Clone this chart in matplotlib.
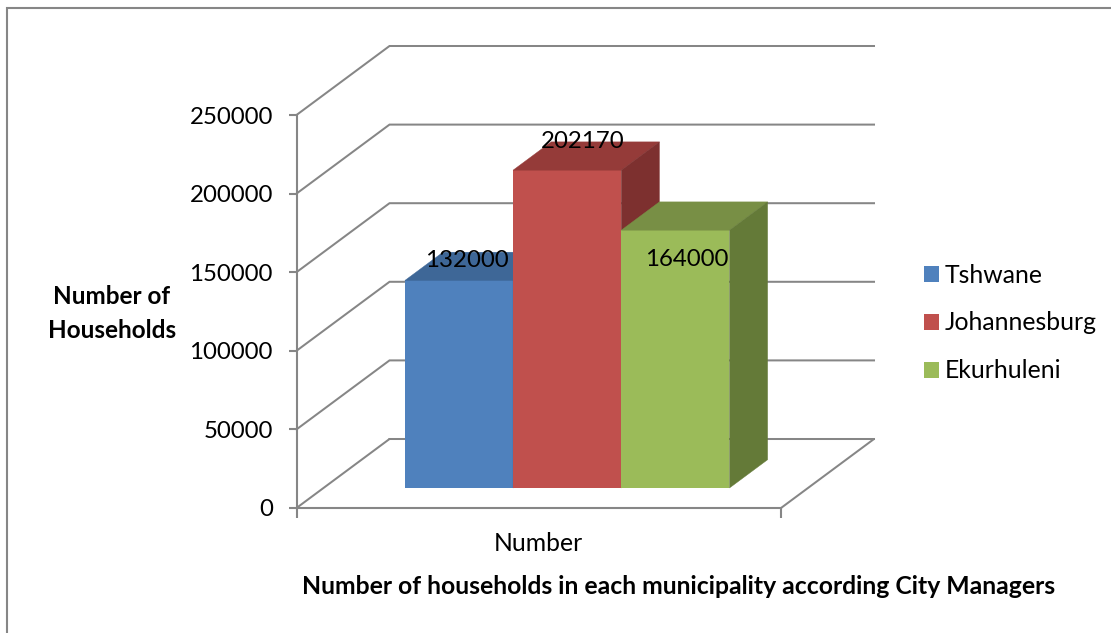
import matplotlib
matplotlib.use('Agg')
import matplotlib.pyplot as plt
from matplotlib.patches import Patch, Polygon, Rectangle

plt.rcParams['font.family'] = ['Lato', 'DejaVu Sans']

# data
municipalities = ['Tshwane', 'Johannesburg', 'Ekurhuleni']
households = [132000, 202170, 164000]
y_ticks = [0, 50000, 100000, 150000, 200000, 250000]
category = 'Number'

# face colours of each bar: front, top, side
front_cols = ['#4F81BD', '#C0504D', '#9BBB59']
top_cols = ['#3E6797', '#953B39', '#788F45']
side_cols = ['#385D8A', '#7D302F', '#647A38']
line_col = '#868686'

W, H = 1111, 633
fig = plt.figure(figsize=(W / 100, H / 100), dpi=100)
fig.patch.set_facecolor('white')

# front plane of the box is 484 px wide, 78.6 px per 50000
left, right, bottom, top = 296.5, 875, 508, 45
ax = fig.add_axes([left / W, 1 - bottom / H, (right - left) / W, (bottom - top) / H])
px_x = 1 / 484.5
px_y = 50000 / 78.6
ax.set_xlim(0, (right - left) * px_x)
ax.set_ylim(0, (bottom - top) * px_y)
ax.patch.set_visible(False)

# fake 3d: depth of the whole box, and where the bars sit inside it
DX = 93 * px_x
DY = 69 * px_y
near, far = 0.29, 0.70
group_start, group_end = 0.168, 0.838
width = (group_end - group_start) / len(households)

# walls
for v in y_ticks:
    ax.plot([0, DX, 1 + DX], [v, v + DY, v + DY], color=line_col, lw=1.45, zorder=1,
            clip_on=False, solid_joinstyle='miter')
ax.plot([1, 1 + DX, DX], [0, DY, DY], color=line_col, lw=1.45, zorder=1, clip_on=False)

for sp in ['top', 'right']:
    ax.spines[sp].set_visible(False)
for sp in ['left', 'bottom']:
    ax.spines[sp].set_color(line_col)
    ax.spines[sp].set_linewidth(1.5)
ax.spines['left'].set_bounds(0, 250000)
ax.spines['bottom'].set_bounds(0, 1)
ax.set_yticks(y_ticks)
ax.set_yticklabels([str(v) for v in y_ticks])
ax.set_xticks([0, 1])
ax.set_xticklabels(['', ''])
ax.set_xticks([0.5], [category], minor=True)
ax.tick_params(axis='y', length=6, width=1.5, color=line_col, labelsize=17.3, pad=11)
ax.tick_params(axis='x', which='major', length=7, width=1.5, color=line_col)
ax.tick_params(axis='x', which='minor', length=0, labelsize=17.8, pad=17)

# bars
for i, v in enumerate(households):
    x0 = group_start + i * width + near * DX
    y0 = near * DY
    ax.bar(x0, v, width=width, bottom=y0, align='edge', color=front_cols[i], zorder=3 + i)
    ddx = (far - near) * DX
    ddy = (far - near) * DY
    ax.add_patch(Polygon([(x0, y0 + v), (x0 + width, y0 + v), (x0 + width + ddx, y0 + v + ddy),
                          (x0 + ddx, y0 + v + ddy)], closed=True, fc=top_cols[i], ec=top_cols[i], lw=0.3, zorder=3 + i))
    ax.add_patch(Polygon([(x0 + width, y0), (x0 + width + ddx, y0 + ddy), (x0 + width + ddx, y0 + v + ddy),
                          (x0 + width, y0 + v)], closed=True, fc=side_cols[i], ec=side_cols[i], lw=0.3, zorder=3 + i))

# data labels, offset from the top middle of each front face (points)
label_off = [(6, 14.5), (11.5, 21), (8.5, -21)]
for i, v in enumerate(households):
    xc = group_start + (i + 0.5) * width + near * DX
    ax.annotate(str(v), (xc, near * DY + v), xytext=label_off[i], textcoords='offset points',
                ha='center', va='center', fontsize=17.3, color='black', zorder=10, annotation_clip=False)

# axis titles
fig.text(112 / W, 1 - 313.5 / H, 'Number of\nHouseholds', ha='center', va='center', fontsize=17.5,
         fontweight='bold', linespacing=1.55)
fig.text(679 / W, 1 - 586.5 / H, 'Number of households in each municipality according City Managers',
         ha='center', va='center', fontsize=17.8, fontweight='bold')

# legend
handles = [Patch(fc=c, ec='none') for c in front_cols]
fig.legend(handles, municipalities, loc='center left', bbox_to_anchor=(924 / W, 1 - 323 / H), frameon=False,
           fontsize=17.8, labelspacing=1.01, handlelength=0.61, handleheight=0.61, handletextpad=0.24,
           borderpad=0, borderaxespad=0)

# chart frame runs off the right and bottom of the picture
fig.add_artist(Rectangle((7 / W, -0.1), 1.2, 1 - 8 / H + 0.1, transform=fig.transFigure, fill=False,
                         ec=line_col, lw=1.5))

fig.savefig('out.png', dpi=100)
